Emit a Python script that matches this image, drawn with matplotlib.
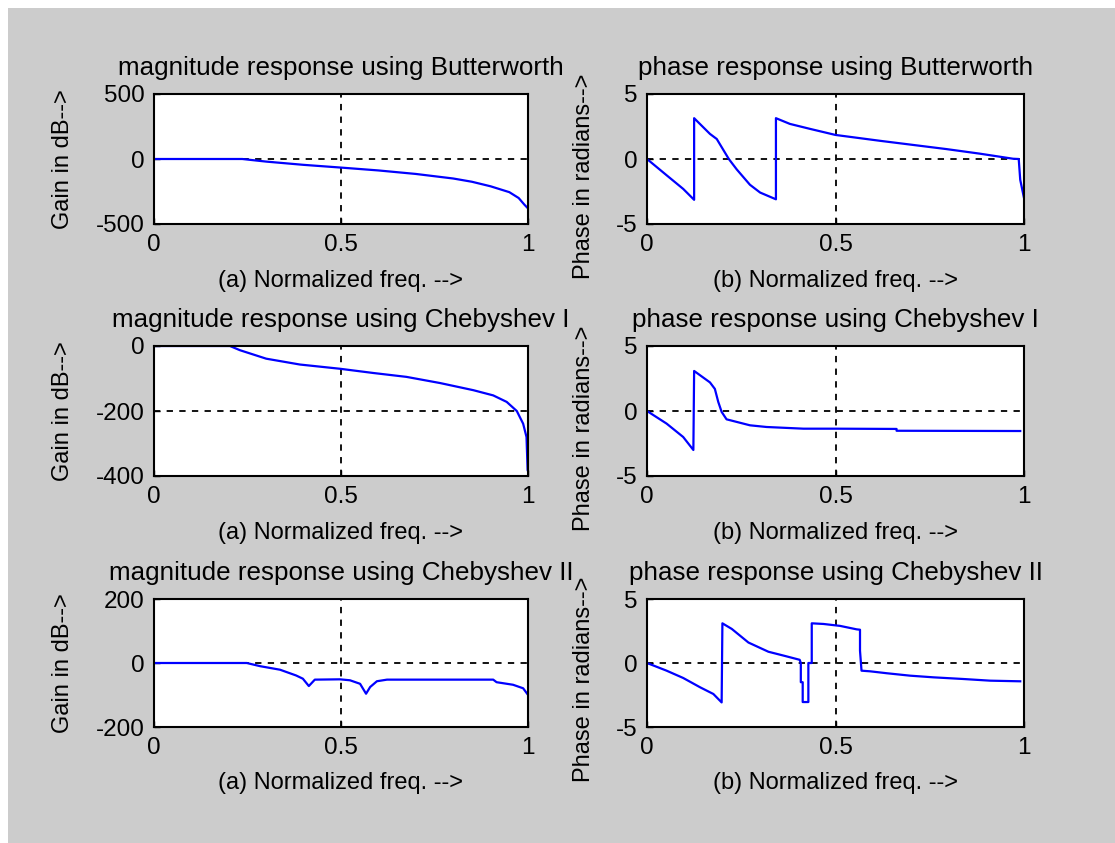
import matplotlib
matplotlib.use('Agg')
import matplotlib.pyplot as plt
from matplotlib.patches import Rectangle

plt.rcParams['font.family'] = ['Liberation Sans', 'DejaVu Sans']
plt.rcParams['font.size'] = 17

# Butterworth
bw_mag_f = [0.0, 0.236, 0.30, 0.40, 0.50, 0.60, 0.70, 0.80, 0.85, 0.90, 0.95, 0.975, 0.99, 1.0]
bw_mag_db = [0, 0, -20, -45, -66, -88, -115, -150, -175, -210, -255, -300, -350, -380]
bw_ph_f = [0.0, 0.052, 0.096, 0.125, 0.125, 0.167, 0.185, 0.217, 0.238, 0.273, 0.30, 0.342,
           0.342, 0.379, 0.432, 0.50, 0.618, 0.795, 0.883, 0.971, 0.986, 0.99, 1.0]
bw_ph_rad = [0.0, -1.25, -2.3, -3.14, 3.14, 1.93, 1.54, 0.0, -0.8, -1.98, -2.58, -3.1,
             3.14, 2.7, 2.32, 1.85, 1.4, 0.76, 0.41, 0.02, 0.0, -1.6, -3.0]

# Chebyshev I
c1_mag_f = [0.0, 0.203, 0.23, 0.30, 0.39, 0.497, 0.586, 0.675, 0.765, 0.854, 0.907, 0.943,
            0.97, 0.987, 0.996, 0.999, 1.0]
c1_mag_db = [0, 0, -13, -39, -57, -70, -83, -95, -114, -136, -152, -172, -200, -239, -280,
             -382, -385]
c1_ph_f = [0.0, 0.052, 0.096, 0.123, 0.125, 0.167, 0.18, 0.189, 0.198, 0.211, 0.238, 0.273,
           0.317, 0.415, 0.5, 0.662, 0.662, 0.99]
c1_ph_rad = [0.0, -0.97, -2.0, -3.0, 3.08, 2.2, 1.7, 0.7, -0.07, -0.64, -0.84, -1.1,
             -1.23, -1.36, -1.36, -1.38, -1.52, -1.54]

# Chebyshev II
c2_mag_f = [0.0, 0.248, 0.284, 0.337, 0.38, 0.398, 0.414, 0.43, 0.497, 0.524, 0.551, 0.567,
            0.578, 0.596, 0.623, 0.907, 0.916, 0.96, 0.987, 0.999]
c2_mag_db = [0, 0, -10, -21, -39, -49, -72, -52, -51, -54, -65, -96,
             -75, -57, -52, -52, -60, -68, -79, -98]
c2_ph_f = [0.0, 0.052, 0.096, 0.141, 0.176, 0.198, 0.2, 0.225, 0.269, 0.322, 0.366, 0.405,
           0.408, 0.408, 0.413, 0.413, 0.428, 0.428, 0.437, 0.437, 0.468, 0.512, 0.556,
           0.565, 0.565, 0.569, 0.592, 0.636, 0.698, 0.76, 0.839, 0.91, 0.99]
c2_ph_rad = [0.0, -0.6, -1.17, -1.9, -2.42, -3.08, 3.1, 2.66, 1.6, 0.88, 0.55, 0.25,
             0.0, -1.5, -1.5, -3.05, -3.05, 0.0, 0.0, 3.1, 3.05, 2.9, 2.63,
             2.6, 0.96, -0.6, -0.65, -0.8, -0.99, -1.12, -1.25, -1.38, -1.43]

W, H = 1115, 843
fig = plt.figure(figsize=(W / 100, H / 100), dpi=100, facecolor='white')
fig.patches.append(Rectangle((8 / W, 0), 1 - 8 / W, 1 - 8 / H, transform=fig.transFigure,
                             facecolor='#cccccc', edgecolor='none', zorder=-10))

lefts = [154, 647]
widths = [374, 377]
rows = [(94, 224), (346, 476), (599, 727)]

panels = [
    (bw_mag_f, bw_mag_db, 'magnitude response using Butterworth', (-500, 500), [-500, 0, 500]),
    (bw_ph_f, bw_ph_rad, 'phase response using Butterworth', (-5, 5), [-5, 0, 5]),
    (c1_mag_f, c1_mag_db, 'magnitude response using Chebyshev I', (-400, 0), [-400, -200, 0]),
    (c1_ph_f, c1_ph_rad, 'phase response using Chebyshev I', (-5, 5), [-5, 0, 5]),
    (c2_mag_f, c2_mag_db, 'magnitude response using Chebyshev II', (-200, 200), [-200, 0, 200]),
    (c2_ph_f, c2_ph_rad, 'phase response using Chebyshev II', (-5, 5), [-5, 0, 5]),
]

for i, (f, y, title, ylim, yticks) in enumerate(panels):
    row, col = divmod(i, 2)
    top, bot = rows[row]
    ax = fig.add_axes([lefts[col] / W, 1 - bot / H, widths[col] / W, (bot - top) / H])
    ax.plot(f, y, color='#0000ff', linewidth=1.6)
    ax.set_xlim(0, 1)
    ax.set_ylim(*ylim)
    ax.set_xticks([0, 0.5, 1])
    ax.set_xticklabels(['0', '0.5', '1'])
    ax.set_yticks(yticks)
    ax.set_yticklabels([str(v) for v in yticks])
    ax.grid(True, color='black', linestyle=(0, (3.5, 3.5)), linewidth=1.3)
    ax.tick_params(direction='in', length=4, width=1, pad=7, colors='black', labelsize=17.5)
    for s in ax.spines.values():
        s.set_linewidth(1.5)
    ax.set_title(title, pad=14, fontsize=18.7)
    if col == 0:
        ax.set_xlabel('(a) Normalized freq. -->')
        ax.set_ylabel('Gain in dB-->')
        ax.yaxis.set_label_coords(-0.215, 0.5)
    else:
        ax.set_xlabel('(b) Normalized freq. -->')
        ax.set_ylabel('Phase in radians-->')
        ax.yaxis.set_label_coords(-0.138, 0.37)
    ax.xaxis.set_label_coords(0.5, -0.35)

fig.savefig('out.png', dpi=100, facecolor=fig.get_facecolor())
